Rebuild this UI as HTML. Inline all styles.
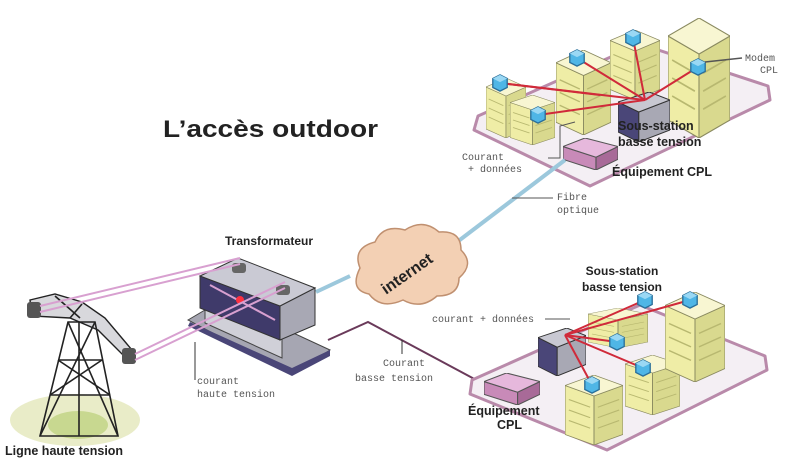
<!DOCTYPE html>
<html><head><meta charset="utf-8"><style>
html,body{margin:0;padding:0;background:#fff;width:800px;height:463px;overflow:hidden}
svg{display:block}
.b{font-family:"Liberation Sans",sans-serif;font-weight:bold;fill:#222}
.m{font-family:"Liberation Mono",monospace;fill:#555;font-size:10px}
</style></head><body>
<svg width="800" height="463" viewBox="0 0 800 463" xmlns="http://www.w3.org/2000/svg">
<defs>
<symbol id="bld" viewBox="0 0 60 100" preserveAspectRatio="none">
<polygon points="0,15 30,30 30,100 0,85" fill="#efeda6" stroke="#8a8a60" stroke-width="1"/>
<polygon points="30,30 60,15 60,85 30,100" fill="#d9d98e" stroke="#8a8a60" stroke-width="1"/>
<polygon points="0,15 30,0 60,15 30,30" fill="#f8f6d2" stroke="#8a8a60" stroke-width="1"/>
<g stroke="#b8b870" stroke-width="1.5">
<line x1="4" y1="35" x2="26" y2="46"/><line x1="4" y1="50" x2="26" y2="61"/><line x1="4" y1="65" x2="26" y2="76"/>
<line x1="34" y1="46" x2="56" y2="35"/><line x1="34" y1="61" x2="56" y2="50"/><line x1="34" y1="76" x2="56" y2="65"/>
</g>
</symbol>
<symbol id="mod" viewBox="0 0 20 20">
<polygon points="10,1 18,5 18,15 10,19 2,15 2,5" fill="#4fb6e6" stroke="#2a6f9a" stroke-width="1.5"/>
<polygon points="10,1 18,5 10,9 2,5" fill="#9ad8f4"/>
</symbol>
<symbol id="box" viewBox="0 0 50 50" preserveAspectRatio="none">
<polygon points="0,10 20,20 20,50 0,40" fill="#4a4678" stroke="#333" stroke-width="1"/>
<polygon points="20,20 50,8 50,38 20,50" fill="#a8a8b4" stroke="#333" stroke-width="1"/>
<polygon points="0,10 30,0 50,8 20,20" fill="#c8c8d2" stroke="#333" stroke-width="1"/>
</symbol>
<symbol id="pink" viewBox="0 0 50 30" preserveAspectRatio="none">
<polygon points="0,8 30,18 30,30 0,20" fill="#c88ab8" stroke="#555" stroke-width="1"/>
<polygon points="30,18 50,8 50,20 30,30" fill="#a86a98" stroke="#555" stroke-width="1"/>
<polygon points="0,8 20,0 50,8 30,18" fill="#e6b8dc" stroke="#555" stroke-width="1"/>
</symbol>
</defs>

<text x="163" y="137" class="b" font-size="24" textLength="215" lengthAdjust="spacingAndGlyphs">L’accès outdoor</text>

<!-- top platform -->
<polygon points="478,116 640,44 768,86 770,100 590,186 474,130" fill="#f4eff4" stroke="#b98aaa" stroke-width="3" stroke-linejoin="round"/>
<use href="#bld" x="486" y="78" width="40" height="60"/>
<use href="#bld" x="510" y="95" width="45" height="50"/>
<use href="#bld" x="556" y="50" width="55" height="85"/>
<use href="#bld" x="610" y="30" width="50" height="70"/>
<use href="#bld" x="668" y="18" width="62" height="120"/>
<use href="#box" x="618" y="92" width="52" height="50"/>
<use href="#pink" x="563" y="138" width="55" height="32"/>
<g stroke="#d02a3a" stroke-width="2">
<line x1="500" y1="83" x2="645" y2="100"/><line x1="538" y1="115" x2="645" y2="100"/>
<line x1="577" y1="58" x2="645" y2="100"/><line x1="633" y1="38" x2="645" y2="100"/>
<line x1="698" y1="67" x2="645" y2="100"/><line x1="500" y1="83" x2="600" y2="95"/>
</g>
<use href="#mod" x="491" y="74" width="18" height="18"/>
<use href="#mod" x="529" y="106" width="18" height="18"/>
<use href="#mod" x="568" y="49" width="18" height="18"/>
<use href="#mod" x="624" y="29" width="18" height="18"/>
<use href="#mod" x="689" y="58" width="18" height="18"/>
<line x1="705" y1="62" x2="742" y2="58" stroke="#555" stroke-width="1.5"/>
<text x="745" y="61" class="m">Modem</text><text x="760" y="73" class="m">CPL</text>
<text x="618" y="130" class="b" font-size="12.5">Sous-station</text>
<text x="618" y="146" class="b" font-size="12.5">basse tension</text>
<text x="612" y="176" class="b" font-size="12.5">Équipement CPL</text>
<polyline points="548,158 560,158 560,126 575,122" fill="none" stroke="#555" stroke-width="1"/>
<text x="462" y="160" class="m">Courant</text><text x="468" y="172" class="m">+ données</text>

<!-- fibre -->
<line x1="565" y1="160" x2="440" y2="255" stroke="#9cc8dc" stroke-width="4"/>
<line x1="350" y1="276" x2="316" y2="292" stroke="#9cc8dc" stroke-width="4"/>
<line x1="512" y1="198" x2="553" y2="198" stroke="#555" stroke-width="1"/>
<text x="557" y="200" class="m">Fibre</text><text x="557" y="213" class="m">optique</text>

<!-- cloud -->
<path d="M360,268 q-8,-20 15,-26 q8,-18 30,-12 q18,-12 34,2 q22,-2 22,18 q14,14 -2,28 q0,18 -22,18 q-16,14 -34,4 q-22,10 -34,-6 q-20,-4 -9,-26z" fill="#f3d0b4" stroke="#c09070" stroke-width="1.5"/>
<text x="410" y="278" class="b" font-size="16" transform="rotate(-35 410 278)" text-anchor="middle">internet</text>

<!-- pylon -->
<ellipse cx="75" cy="420" rx="65" ry="26" fill="#e9ecc8"/>
<ellipse cx="78" cy="425" rx="30" ry="14" fill="#c8d890"/>
<polygon points="30,300 55,294 82,302 105,318 132,350 124,356 98,330 70,318 32,316" fill="#d8d8dc" stroke="#222" stroke-width="1.4"/>
<g fill="none" stroke="#222" stroke-width="1.6">
<polygon points="40,436 118,436 95,322 68,322"/>
<line x1="40" y1="436" x2="95" y2="322"/><line x1="118" y1="436" x2="68" y2="322"/>
<line x1="50" y1="395" x2="110" y2="395"/><line x1="58" y1="360" x2="102" y2="360"/>
<line x1="50" y1="395" x2="102" y2="360"/><line x1="110" y1="395" x2="58" y2="360"/>
<line x1="79" y1="436" x2="79" y2="322"/>
<line x1="55" y1="296" x2="80" y2="318"/><line x1="82" y1="304" x2="70" y2="318"/>
</g>
<rect x="27" y="302" width="14" height="16" rx="3" fill="#555"/>
<rect x="122" y="348" width="14" height="16" rx="3" fill="#555"/>
<text x="5" y="455" class="b" font-size="12.5">Ligne haute tension</text>

<!-- transformer -->
<polygon points="188,320 222,300 330,350 292,375" fill="#a6a6b2" stroke="#444" stroke-width="1"/>
<polygon points="190,322 292,368 330,350 330,356 292,376 188,326" fill="#4a4678"/>
<polygon points="205,300 282,335 282,358 205,323" fill="#d0d0d8" stroke="#444"/>
<polygon points="200,276 280,306 280,340 200,308" fill="#3f3a6a" stroke="#333"/>
<polygon points="280,306 315,288 315,325 280,340" fill="#a8a8b4" stroke="#333"/>
<polygon points="200,276 238,258 315,288 280,306" fill="#cacad4" stroke="#333"/>
<line x1="210" y1="285" x2="275" y2="320" stroke="#d8a0d0" stroke-width="2"/>
<circle cx="240" cy="300" r="4" fill="#ff3040"/>
<rect x="232" y="263" width="14" height="10" rx="3" fill="#666"/>
<rect x="276" y="285" width="14" height="10" rx="3" fill="#666"/>

<!-- HT wires -->
<g stroke="#d8a0d0" stroke-width="2" fill="none">
<line x1="40" y1="306" x2="240" y2="258"/><line x1="40" y1="312" x2="240" y2="264"/>
<line x1="135" y1="354" x2="285" y2="282"/><line x1="135" y1="360" x2="285" y2="288"/>
</g>
<text x="225" y="245" class="b" font-size="12">Transformateur</text>
<line x1="195" y1="342" x2="195" y2="380" stroke="#333" stroke-width="1"/>
<text x="197" y="384" class="m">courant</text><text x="197" y="397" class="m">haute tension</text>

<!-- BT wire -->
<polyline points="328,340 368,322 480,382" fill="none" stroke="#6a3a5a" stroke-width="2"/>
<line x1="402" y1="340" x2="402" y2="354" stroke="#333"/>
<text x="383" y="366" class="m">Courant</text><text x="355" y="381" class="m">basse tension</text>

<!-- bottom platform -->
<polygon points="472,380 640,305 765,356 767,370 607,450 470,394" fill="#f4eff4" stroke="#b98aaa" stroke-width="3" stroke-linejoin="round"/>
<use href="#pink" x="484" y="373" width="56" height="32"/>
<use href="#box" x="538" y="328" width="48" height="48"/>
<use href="#bld" x="588" y="308" width="60" height="40"/>
<use href="#bld" x="625" y="355" width="55" height="60"/>
<use href="#bld" x="565" y="375" width="58" height="70"/>
<use href="#bld" x="665" y="292" width="60" height="90"/>
<g stroke="#d02a3a" stroke-width="2">
<line x1="565" y1="335" x2="645" y2="300"/><line x1="565" y1="335" x2="690" y2="300"/>
<line x1="565" y1="335" x2="617" y2="342"/><line x1="565" y1="335" x2="643" y2="368"/>
<line x1="565" y1="335" x2="592" y2="385"/>
</g>
<use href="#mod" x="636" y="291" width="18" height="18"/>
<use href="#mod" x="681" y="291" width="18" height="18"/>
<use href="#mod" x="608" y="333" width="18" height="18"/>
<use href="#mod" x="634" y="359" width="18" height="18"/>
<use href="#mod" x="583" y="376" width="18" height="18"/>
<text x="622" y="275" class="b" font-size="12" text-anchor="middle">Sous-station</text>
<text x="622" y="291" class="b" font-size="12" text-anchor="middle">basse tension</text>
<text x="432" y="322" class="m">courant + données</text>
<line x1="545" y1="319" x2="570" y2="319" stroke="#555"/>
<text x="468" y="415" class="b" font-size="12.5">Équipement</text>
<text x="497" y="429" class="b" font-size="12.5">CPL</text>
</svg>
</body></html>
